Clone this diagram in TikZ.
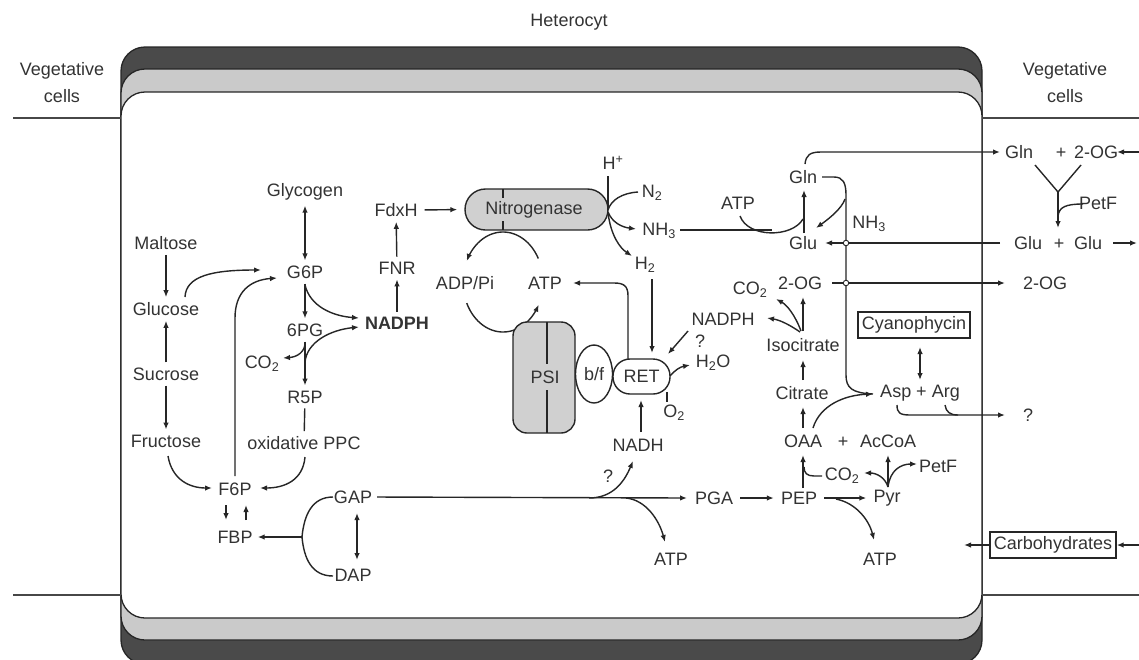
\documentclass[tikz,border=0pt]{standalone}
\usepackage{fontspec}
\setmainfont{Liberation Sans}
\usetikzlibrary{arrows.meta,calc,shapes.geometric}
\definecolor{txt}{HTML}{333333}
\definecolor{ln}{HTML}{262626}
\definecolor{wallD}{HTML}{4A4A4A}
\definecolor{wallL}{HTML}{CACACA}
\definecolor{cplx}{HTML}{D0D0D0}
\newcommand{\labfont}{\fontsize{18}{27}\selectfont}
\begin{document}
\begin{tikzpicture}[x=1pt,y=-1pt,
  lbl/.style={inner sep=1pt, text=txt, font=\labfont},
  con/.style={draw=ln, line width=1.4pt},
  arr/.style={con, -{Latex[length=7pt,width=5.5pt]}},
  darr/.style={con, {Latex[length=7pt,width=5.5pt]}-{Latex[length=7pt,width=5.5pt]}},
  sh/.style={shorten <=4pt, shorten >=4pt},
  shh/.style={shorten <=6pt, shorten >=6pt},
  wall/.style={draw=black!85, line width=1.3pt, rounded corners=24pt},
  boxed/.style={lbl, draw=ln, line width=1.3pt, inner xsep=4pt, inner ysep=4.5pt},
  cplxbox/.style={lbl, draw=ln, line width=1.4pt, fill=cplx},
  whitebox/.style={lbl, draw=ln, line width=1.4pt, fill=white},
  junc/.style={circle, draw=ln, fill=white, line width=0.9pt, inner sep=0pt, minimum size=5.5pt},
  border/.style={draw=ln!85, line width=1.3pt},
]
\useasboundingbox (0,0) rectangle (1139,659);
% ---------- heterocyst envelope ----------
\draw[wall, fill=wallD] (121,47) rectangle (982,664);
\draw[wall, fill=wallL] (121,69) rectangle (982,640);
\draw[wall, fill=white] (121,92) rectangle (982,618);
\coordinate (wl1) at (13,118);  \coordinate (wl2) at (121,118);
\coordinate (wl3) at (13,595);  \coordinate (wl4) at (121,595);
\coordinate (wr1) at (982,118); \coordinate (wr2) at (1139,118);
\coordinate (wr3) at (982,595); \coordinate (wr4) at (1139,595);
\draw[border] (wl1) -- (wl2);
\draw[border] (wl3) -- (wl4);
\draw[border] (wr1) -- (wr2);
\draw[border] (wr3) -- (wr4);
\node[lbl] (title) at (569,22) {Heterocyt};
\node[lbl, align=center] (vegL) at (62,83) {Vegetative\\cells};
\node[lbl, align=center] (vegR) at (1065,83) {Vegetative\\cells};

% ---------- sugar metabolism ----------
\node[lbl] (malt) at (166,243) {Maltose};
\node[lbl] (gluc) at (166,309) {Glucose};
\node[lbl] (sucr) at (166,374) {Sucrose};
\node[lbl] (fruc) at (166,441) {Fructose};
\node[lbl] (glyc) at (305,192) {Glycogen};
\node[lbl] (g6p) at (305,272) {G6P};
\node[lbl] (pg6) at (305,330) {6PG};
\node[lbl] (co2a) at (262,364) {CO\textsubscript{2}};
\node[lbl] (r5p) at (305,397) {R5P};
\node[lbl] (oppc) at (304,443) {oxidative PPC};
\node[lbl, font=\labfont\bfseries] (nadpha) at (397,323) {NADPH};
\node[lbl] (fnr) at (397,268) {FNR};
\node[lbl] (fdxh) at (396,210) {FdxH};
\node[lbl] (f6p) at (235,489) {F6P};
\node[lbl] (fbp) at (235,537) {FBP};
\node[lbl] (gap) at (353,497) {GAP};
\node[lbl] (dap) at (353,575) {DAP};

\draw[arr, sh] (malt) -- (gluc);
\draw[arr, sh] (sucr) -- (gluc);
\draw[arr, sh] (sucr) -- (fruc);
\draw[darr, sh] (glyc) -- (g6p);
\draw[arr, sh] (g6p) -- (pg6);
\draw[arr, sh] (pg6) -- (r5p);
\draw[con, sh] (r5p) -- (oppc);
\draw[arr, sh] (nadpha) -- (fnr);
\draw[arr, sh] (fnr) -- (fdxh);
\draw[arr] (185,297) .. controls (186,276) and (212,270) .. (261,270);
\draw[arr] (235,476) -- (235,318) .. controls (235,292) and (250,280) .. (277,278);
\draw[arr] (305,285) .. controls (310,306) and (332,316) .. (359,318);
\draw[arr] (305,343) .. controls (305,352) and (297,357) .. (283,358);
\draw[arr] (305,362) .. controls (307,342) and (330,330) .. (359,327);
\draw[arr] (168,456) .. controls (172,480) and (190,488) .. (212,488);
\draw[arr] (305,457) .. controls (303,480) and (285,488) .. (260,488);
\draw[arr] (226,505) -- (226,520);
\draw[arr] (246,520) -- (246,505);
\coordinate (brk) at (302,537);
\draw[con] (333,497) .. controls (312,497) and (304,515) .. (brk);
\draw[con] (333,576) .. controls (312,576) and (304,559) .. (brk);
\draw[arr, shorten >=4pt] (brk) -- (fbp.east);
\draw[darr] (357,513) -- (357,560);

% ---------- glycolysis row ----------
\node[lbl] (pga) at (714,498) {PGA};
\node[lbl] (pep) at (799,498) {PEP};
\node[lbl] (pyr) at (887,498) {Pyr};
\node[lbl] (atp1) at (671,559) {ATP};
\node[lbl] (atp2) at (880,559) {ATP};
\node[lbl] (q1) at (608,476) {?};
\draw[arr, shorten <=4pt] (gap.east) -- (687,498);
\draw[arr] (589,498) .. controls (614,498) and (625,480) .. (633,461);
\draw[arr] (626,498) .. controls (646,500) and (659,520) .. (665,542);
\draw[arr, shh] (pga) -- (pep);
\draw[arr, shh] (pep) -- (pyr);
\draw[arr] (836,499) .. controls (856,503) and (869,520) .. (874,540);

\node[lbl] (oaa) at (803,441) {OAA};
\node[lbl, anchor=base] (plus1) at (843,447.5) {+};
\node[lbl] (accoa) at (888,441) {AcCoA};
\node[lbl] (co2b) at (842,476) {CO\textsubscript{2}};
\node[lbl] (petf2) at (938,466) {PetF};
\draw[arr] (803,488) -- (803,455);
\draw[con] (822,476) -- (814,476) .. controls (807,476) and (804,473) .. (804,467);
\draw[arr] (888,487) -- (888,455);
\draw[arr] (888,487) .. controls (885,477) and (876,473) .. (864,473);
\draw[arr] (888,487) .. controls (890,470) and (901,464) .. (917,464);

% ---------- TCA branch ----------
\node[lbl] (citr) at (802,393) {Citrate};
\node[lbl] (isoc) at (803,345) {Isocitrate};
\node[lbl] (og) at (800,283) {2-OG};
\node[lbl] (co2c) at (750,290) {CO\textsubscript{2}};
\node[lbl] (nadphb) at (723,319) {NADPH};
\draw[arr] (803,428) -- (803,407);
\draw[arr] (803,380) -- (803,360);
\draw[arr] (803,331) -- (803,297);
\draw[arr] (801,331) .. controls (795,315) and (787,305) .. (776,299);
\draw[arr] (800,332) .. controls (790,325) and (780,320) .. (767,318);

% ---------- GS/GOGAT ----------
\node[lbl] (gln) at (803,177) {Gln};
\node[lbl] (glu) at (803,243) {Glu};
\node[lbl] (atp3) at (738,203) {ATP};
\node[lbl] (nh3b) at (869,224) {NH\textsubscript{3}};
\draw[arr] (804,233) -- (804,190);
\draw[con] (680,230) -- (772,230);
\draw[con] (740,216) .. controls (748,238) and (792,238) .. (803,219);
\draw[con] (822,177) -- (834,177) .. controls (843,177) and (846,183) .. (846,195) -- (846,375) .. controls (846,388) and (852,393) .. (873,394);
\draw[arr] (845,199) .. controls (842,208) and (830,218) .. (816,228);
\draw[arr] (1000,243) -- (825,243);
\draw[arr] (832,283) -- (1005,283);
\node[junc] (j1) at (846,243) {};
\node[junc] (j2) at (846,283) {};
\draw[arr] (805,164) .. controls (806,155) and (810,152) .. (821,152) -- (1000,152);

% ---------- vegetative side ----------
\node[lbl] (gln2) at (1019,152) {Gln};
\node[lbl, anchor=base] (plus2) at (1061,158.5) {+};
\node[lbl] (og2) at (1096,152) {2-OG};
\node[lbl] (petf3) at (1098,203) {PetF};
\node[lbl] (glu2) at (1028,243) {Glu};
\node[lbl, anchor=base] (plus3) at (1059,249.5) {+};
\node[lbl] (glu3) at (1088,243) {Glu};
\node[lbl] (og3) at (1045,283) {2-OG};
\coordinate (ein1) at (1139,152);
\coordinate (eout1) at (1137,243);
\coordinate (yj) at (1058,192);
\draw[arr] (ein1) -- (1117,152);
\draw[arr] (1113,243) -- (eout1);
\draw[con] (1035,165) -- (yj) -- (1081,165);
\draw[arr] (yj) -- (1058,228);
\draw[con] (1083,204) .. controls (1066,204) and (1059,207) .. (1058,216);

% ---------- nitrogenase ----------
\node[cplxbox, rounded corners=20.5pt, minimum width=143pt, minimum height=41pt] (nitro) at (536.5,209.5) {};
\node[lbl] (nitrot) at (534,210) {Nitrogenase};
\draw[con] (503,189) -- (503,198);
\draw[con] (503,221) -- (503,230);
\draw[arr, shorten <=6pt, shorten >=7pt] (fdxh.east) -- (nitro.west);
\node[lbl] (hplus) at (613,163) {H\textsuperscript{+}};
\node[lbl] (n2) at (652,193) {N\textsubscript{2}};
\node[lbl] (nh3a) at (659,231) {NH\textsubscript{3}};
\node[lbl] (h2) at (645,265) {H\textsubscript{2}};
\draw[con] (608,176) -- (608,210);
\draw[con] (638,192) .. controls (622,193) and (611,200) .. (608,210);
\draw[arr] (608,212) .. controls (612,222) and (621,227) .. (636,229);
\draw[arr] (608,213) .. controls (611,236) and (620,248) .. (632,256);

% ATP cycle
\node[lbl] (adp) at (465,283) {ADP/Pi};
\node[lbl] (atpn) at (545,283) {ATP};
\draw[arr] plot[domain=90:155, samples=30] ({503+40*cos(\x)},{282-50*sin(\x)});
\draw[con] plot[domain=28:90, samples=30] ({503+40*cos(\x)},{282-50*sin(\x)});
\draw[arr] plot[domain=205:333, samples=40] ({503+40*cos(\x)},{282-50*sin(\x)});

% ---------- photosystem / respiration ----------
\node[cplxbox, rounded corners=14pt, minimum width=62pt, minimum height=111pt] (psi) at (544,377.5) {};
\node[lbl] (psit) at (545,377) {PSI};
\draw[con] (547,322) -- (547,364);
\draw[con] (547,390) -- (547,433);
\node[whitebox, ellipse, inner sep=0pt, minimum width=37pt, minimum height=58pt] (bf) at (594,374) {b/f};
\node[whitebox, rounded corners=17pt, minimum width=57pt, minimum height=35pt] (ret) at (641.5,376.5) {RET};
\draw[arr] (652,279) -- (652,353);
\draw[arr] (628,359) -- (628,296) .. controls (628,286) and (624,283) .. (614,283) -- (573,283);
\node[lbl] (q2) at (700,341) {?};
\draw[arr] (688,331) -- (668,354);
\node[lbl] (h2o) at (713,363) {H\textsubscript{2}O};
\draw[arr] (670,376) .. controls (675,370) and (680,367) .. (690,365);
\node[lbl] (o2) at (674,413) {O\textsubscript{2}};
\draw[con] (667,392) -- (667,402);
\node[lbl] (nadh) at (638,445) {NADH};
\draw[arr] (641,432) -- (641,400);

% ---------- cyanophycin ----------
\node[boxed] (cyan) at (914,325) {Cyanophycin};
\node[lbl] (asp) at (920,393) {Asp + Arg};
\node[lbl] (q3) at (1028,415) {?};
\draw[darr] (920,347) -- (920,380);
\draw[arr] (813,428) .. controls (820,405) and (845,395) .. (873,394);
\draw[arr] (897,405) .. controls (897,413) and (900,415) .. (910,415) -- (1005,415);
\draw[con] (945,405) .. controls (946,412) and (950,415) .. (958,415);

% ---------- carbohydrates ----------
\node[boxed] (carb) at (1053,545) {Carbohydrates};
\coordinate (ein2) at (1139,545);
\draw[arr] (carb.west) -- (964,545);
\draw[arr] (ein2) -- (carb.east);
\end{tikzpicture}
\end{document}
